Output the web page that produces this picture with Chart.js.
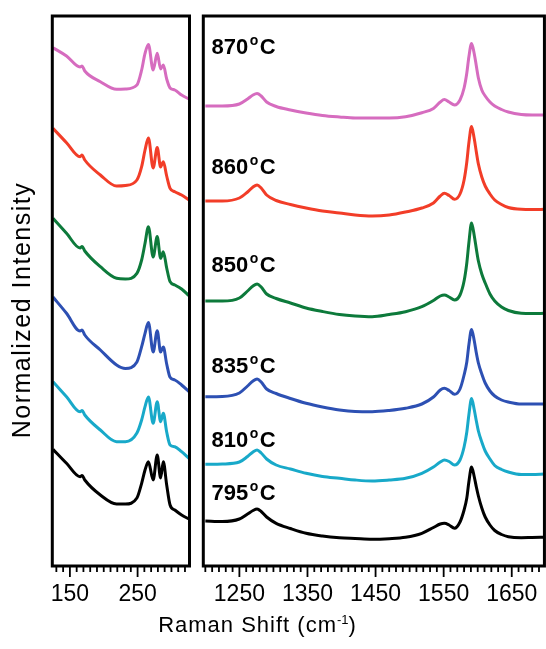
<!DOCTYPE html>
<html>
<head>
<meta charset="utf-8">
<script src="https://cdn.jsdelivr.net/npm/chart.js@4.4.1/dist/chart.umd.min.js"></script>
<style>
  body { margin: 0; background: #fff; }
  #wrap { position: relative; width: 546px; height: 649px; overflow: hidden; background: #fff;
          font-family: "Liberation Sans", Arial, Helvetica, sans-serif; color: #000; }
  canvas { position: absolute; top: 0; }
  #lowChart { left: 0; }
  #highChart { left: 196px; }
  #xTitle { position: absolute; left: 0; top: 613px; width: 515px; text-align: center;
            font-size: 22px; line-height: 24px; letter-spacing: 1px; white-space: nowrap; }
  #xTitle sup { font-size: 13px; vertical-align: 8px; line-height: 0; letter-spacing: 0; }
  #yTitle { position: absolute; left: -129px; top: 295px; width: 300px; height: 30px; line-height: 30px;
            text-align: center; font-size: 25px; letter-spacing: 1.5px; white-space: nowrap;
            transform: rotate(-90deg); }
</style>
</head>
<body>
<div id="wrap">
  <canvas id="lowChart" width="200" height="649"></canvas>
  <canvas id="highChart" width="350" height="649"></canvas>
  <div id="yTitle">Normalized Intensity</div>
  <div id="xTitle">Raman Shift (cm<sup>-1</sup>)</div>
</div>
<script>
// temperaturas (de cima para baixo)
const temps = ['870', '860', '850', '835', '810', '795'];

// eixo x - regiao RBM (esquerda) e regiao D/G (direita), em cm-1
const lowShift = [125, 145, 165, 168, 172, 195, 219, 232, 249, 256, 261, 266, 273, 279, 284, 288, 293, 298, 305, 315, 326];
const highShift = [1200, 1225, 1250, 1262, 1270, 1276, 1282, 1290, 1304, 1325, 1348, 1372, 1397, 1420, 1445, 1470,
  1494, 1518, 1535, 1545, 1551, 1558, 1566, 1574, 1580, 1584, 1587, 1591, 1595, 1598, 1601, 1606,
  1611, 1618, 1625, 1635, 1645, 1664, 1680, 1698];

// rotulos dos ticks
const lowLabels = [150, 250];
const highLabels = [1250, 1350, 1450, 1550, 1650];

// intensidades ja deslocadas (u.a.)
const low870 = [518.3, 510, 499, 500, 495, 484.3, 476.7, 477, 481, 496, 512.7, 521.5, 496, 512.7, 497, 501, 487, 478, 476, 471, 467];
const low860 = [437.7, 423.3, 409.3, 411, 406, 391, 380, 380.5, 386, 399.3, 416, 428, 398, 418.5, 399, 404.3, 390, 377.7, 374.3, 371, 366];
const low850 = [347.7, 332.7, 318, 319.5, 315, 299.3, 287.7, 287, 292.7, 306, 322.7, 339.3, 309, 329.5, 307.7, 314.3, 298, 284.3, 281, 277, 270.3];
const low835 = [269, 252.7, 235, 236, 231, 216, 201, 197.5, 204, 219.3, 232.7, 243.5, 214, 235.3, 214, 219, 202, 188.7, 186, 181, 174.3];
const low810 = [184.3, 169.3, 154.3, 155.5, 151, 136, 124.3, 124.3, 133, 146, 159.3, 169, 142.7, 164.3, 144.3, 152.7, 134, 121, 119.3, 114.3, 107.7];
const low795 = [116.7, 102.7, 89.3, 90.5, 86, 71, 62, 62, 68, 82.7, 96, 104.3, 86, 111, 88, 104.3, 81, 61, 56, 51, 47];

const high870 = [460, 460, 462, 467, 471, 472.5, 470, 464, 459.5, 456, 453, 450.5, 449, 448, 448, 448,
  449.3, 453.3, 457.5, 464, 466.5, 464, 461, 466, 478, 493, 509, 522.5, 512, 500, 488, 476,
  470, 464, 460, 456.5, 454, 451.5, 451, 451];
const high860 = [365, 365, 368, 374, 379, 381, 378, 371, 365.5, 361.5, 358, 355, 353, 351, 350, 351,
  354, 358, 363, 370, 372.7, 370.5, 366.7, 372, 386, 404, 423, 439.5, 427, 414, 402, 389,
  380, 372, 366, 361.5, 358.5, 356.7, 356.5, 356.7];
const high850 = [265, 265, 268, 275, 280, 282, 279, 272, 267.5, 263, 258, 254.5, 251.5, 250, 249.3, 251.5,
  254.3, 259.3, 265.5, 270, 271, 269, 266, 271, 285, 303, 323, 343, 330, 317, 305, 292,
  283, 272, 265, 259, 255.5, 252.7, 252.5, 252.7];
const high835 = [169.3, 169.5, 173, 180, 185, 187, 184, 177, 172.5, 167.5, 162.7, 159, 156, 154.5, 154.3, 155.5,
  157.7, 162, 169, 176, 177.7, 175.5, 171.7, 177, 191, 204, 221, 236.5, 225, 213, 203, 192,
  183, 175, 170, 166, 164, 162, 162, 162];
const high810 = [101.7, 102, 104, 109.5, 114, 116, 113, 107, 101, 97, 92.7, 89.5, 87.7, 86, 85, 86,
  87.7, 92.7, 99, 104, 106, 104.5, 101, 106, 119, 134, 151, 167.5, 156, 145, 135, 124,
  115, 107, 100.5, 96.5, 94, 91.5, 91.5, 92];
const high795 = [45, 44.5, 47, 52, 55.5, 57, 54.5, 49, 42.7, 37.5, 32.7, 30, 28.3, 27.5, 26.7, 27.3,
  28.7, 32.7, 38.5, 42, 42.7, 41, 37.7, 44, 56, 68, 84, 99, 89, 79, 70, 58,
  49, 41, 35.5, 31.5, 29.3, 28.3, 28.5, 28.7];

const lowSeries = [low870, low860, low850, low835, low810, low795];
const highSeries = [high870, high860, high850, high835, high810, high795];
const colors = ['#d66cbf', '#f23d28', '#0d7a3b', '#2d50b3', '#18a9c9', '#000000'];

const FONT = '"Liberation Sans", Arial, Helvetica, sans-serif';

function makeSets(xs, series) {
  return series.map((ys, i) => ({
    label: temps[i] + '°C',
    data: xs.map((x, j) => ({ x: x, y: ys[j] })),
    borderColor: colors[i],
    borderWidth: 3,
    pointRadius: 0,
    cubicInterpolationMode: 'monotone'
  }));
}

function range(a, b, step) {
  const out = [];
  for (let v = a; v <= b; v += step) out.push(v);
  return out;
}

// moldura preta + marcas do eixo x (menores a cada 10, maiores nos rotulos)
function framePlugin(ticks, majors) {
  return {
    id: 'frame',
    afterDraw(chart) {
      const { ctx, chartArea: a, scales } = chart;
      ctx.save();
      ctx.fillStyle = '#000';
      ticks.forEach(v => {
        const px = scales.x.getPixelForValue(v);
        const len = majors.includes(v) ? 11 : 6;
        ctx.fillRect(px - 0.9, a.bottom, 1.8, len);
      });
      ctx.strokeStyle = '#000';
      ctx.lineWidth = 3;
      ctx.strokeRect(a.left, a.top, a.right - a.left, a.bottom - a.top);
      ctx.restore();
    }
  };
}

// rotulos de temperatura (870°C etc)
function labelPlugin(pos) {
  return {
    id: 'tempLabels',
    afterDatasetsDraw(chart) {
      if (!pos) return;
      const { ctx, scales } = chart;
      ctx.save();
      ctx.fillStyle = '#000';
      ctx.textBaseline = 'alphabetic';
      temps.forEach((t, i) => {
        let px = scales.x.getPixelForValue(pos.x);
        const py = scales.y.getPixelForValue(pos.y[i]);
        ctx.font = 'bold 22px ' + FONT;
        ctx.fillText(t, px, py);
        px += ctx.measureText(t).width + 1.5;
        ctx.font = 'bold 14px ' + FONT;
        ctx.fillText('o', px, py - 9);
        px += ctx.measureText('o').width + 1.5;
        ctx.font = 'bold 22px ' + FONT;
        ctx.fillText('C', px, py);
      });
      ctx.restore();
    }
  };
}

function makeChart(id, xs, series, xmin, xmax, labels, pad, labelPos) {
  const ticks = range(Math.ceil(xmin / 10) * 10, xmax, 10);
  return new Chart(document.getElementById(id), {
    type: 'line',
    data: { datasets: makeSets(xs, series) },
    options: {
      responsive: false,
      animation: false,
      layout: { padding: pad },
      plugins: {
        legend: { display: false },
        tooltip: { enabled: false }
      },
      scales: {
        x: {
          type: 'linear',
          min: xmin,
          max: xmax,
          afterBuildTicks: s => { s.ticks = ticks.map(v => ({ value: v })); },
          afterFit: s => { s.height = 83; },
          border: { display: false },
          grid: { display: false },
          ticks: {
            autoSkip: false,
            maxRotation: 0,
            minRotation: 0,
            padding: 7,
            color: '#000',
            font: { family: FONT, size: 23 },
            callback: v => labels.includes(v) ? String(v) : ''
          }
        },
        y: { display: false, min: 0, max: 550 }
      }
    },
    plugins: [framePlugin(ticks, labels), labelPlugin(labelPos)]
  });
}

document.addEventListener('DOMContentLoaded', () => {
  makeChart('lowChart', lowShift, lowSeries, 124, 326.7, lowLabels,
    { left: 52.3, right: 10.5, top: 16, bottom: 0 }, null);
  makeChart('highChart', highShift, highSeries, 1197, 1698, highLabels,
    { left: 7.3, right: 1, top: 16, bottom: 0 },
    { x: 1209, y: [512, 392, 294, 193, 119, 66] });
});
</script>
</body>
</html>
